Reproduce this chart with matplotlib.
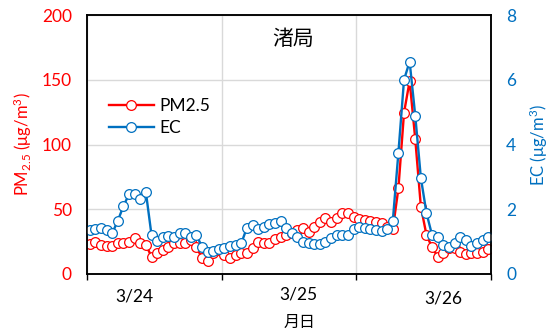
import numpy as np
import matplotlib
matplotlib.use("Agg")
import matplotlib.pyplot as plt

plt.rcParams['font.family'] = ['Lato', 'Noto Sans CJK JP', 'DejaVu Sans']
plt.rcParams['mathtext.fontset'] = 'custom'
plt.rcParams['mathtext.rm'] = 'Lato'
plt.rcParams['mathtext.it'] = 'Lato:italic'

# hourly values, 3/24 0:00 - 3/26 23:00
pm25 = [23.2, 25.0, 22.4, 21.6, 21.9, 23.7, 24.2, 25.0, 27.5, 24.2,
        22.4, 13.4, 16.5, 18.5, 20.6, 23.7, 24.2, 23.7, 26.3, 21.1,
        12.1, 10.0, 16.0, 18.5, 14.7, 12.1, 14.7, 16.0, 16.5, 19.8,
        25.0, 24.2, 23.7, 26.8, 28.8, 30.1, 31.4, 34.0, 35.3, 32.7,
        36.6, 40.0, 43.0, 40.4, 43.0, 46.8, 46.8, 44.3, 42.2, 41.7,
        41.2, 40.4, 39.6, 36.6, 34.5, 66.2, 124.6, 149.0, 104.2, 52.0,
        30.1, 20.6, 13.4, 16.0, 19.8, 19.8, 17.3, 15.4, 16.0, 16.0,
        16.8, 19.1]
ec = [1.36, 1.39, 1.41, 1.36, 1.26, 1.65, 2.10, 2.47, 2.46, 2.33,
      2.52, 1.20, 1.03, 1.13, 1.18, 1.13, 1.26, 1.26, 1.15, 1.20,
      0.84, 0.69, 0.72, 0.76, 0.79, 0.86, 0.90, 0.95, 1.43, 1.50,
      1.40, 1.46, 1.54, 1.59, 1.64, 1.41, 1.26, 1.13, 1.00, 0.95,
      0.92, 0.92, 1.00, 1.12, 1.20, 1.22, 1.20, 1.38, 1.45, 1.42,
      1.40, 1.35, 1.33, 1.40, 1.64, 3.75, 6.00, 6.56, 4.89, 2.97,
      1.88, 1.20, 1.15, 0.90, 0.84, 0.95, 1.13, 1.05, 0.87, 0.95,
      1.05, 1.13]
day_labels = ['3/24', '3/25', '3/26']

red = '#FF0000'
blue = '#0070C0'
hours = np.arange(len(pm25))

fig = plt.figure(figsize=(5.5, 3.35), dpi=100)
ax = fig.add_axes([87/550, 61/335, 404/550, 259/335])
ax2 = ax.twinx()

l1, = ax.plot(hours, pm25, color=red, lw=1.7, marker='o', ms=7,
              mfc='white', mec=red, mew=0.9, label='PM2.5')
l2, = ax2.plot(hours, ec, color=blue, lw=1.7, marker='o', ms=7,
               mfc='white', mec=blue, mew=0.9, label='EC')

ax.set_xlim(-0.5, len(pm25) - 0.5)
ax.set_ylim(0, 200)
ax2.set_ylim(0, 8)
ax.set_yticks([0, 50, 100, 150, 200])
ax2.set_yticks([0, 2, 4, 6, 8])

# day boundaries
ax.set_xticks([-0.5, 23.5, 47.5, 71.5])
ax.set_xticklabels([])
ax.set_xticks([7.9, 37.1, 63.0], minor=True)
ax.set_xticklabels(day_labels, minor=True, fontsize=12.5)
ax.tick_params(axis='x', which='major', length=4, width=1, direction='out')
ax.tick_params(axis='x', which='minor', length=0)
for t, p in zip(ax.xaxis.get_minor_ticks(), [10.5, 9.0, 11.8]):
    t.set_pad(p)

ax.grid(True, axis='both', which='major', color='#D9D9D9', lw=1)
ax.set_axisbelow(True)

ax.tick_params(axis='y', length=0, pad=11, labelcolor=red, labelsize=12.5)
ax2.tick_params(axis='y', length=0, pad=11, labelcolor=blue, labelsize=12.5)

for a in (ax, ax2):
    for s in a.spines.values():
        s.set_color('black')
        s.set_linewidth(1.1)

ax.set_ylabel('PM$_{2.5}$ (μg/m$^3$)', color=red, fontsize=12)
ax.yaxis.set_label_coords(-0.13, 0.5)
ax2.set_ylabel('EC (μg/m$^3$)', color=blue, fontsize=12)
ax2.yaxis.set_label_coords(1.09, 0.5)
ax.set_xlabel('月日', fontsize=11.5)
ax.xaxis.set_label_coords(0.527, -0.16)

ax.text(0.51, 0.907, '渚局', transform=ax.transAxes, ha='center', va='center',
        fontsize=15)

ax2.legend([l1, l2], ['PM2.5', 'EC'], loc='upper left',
           bbox_to_anchor=(0.015, 0.74), frameon=False, fontsize=12.5,
           handlelength=2.6, handletextpad=0.3, labelspacing=0.35)

fig.savefig('out.png', dpi=100)
